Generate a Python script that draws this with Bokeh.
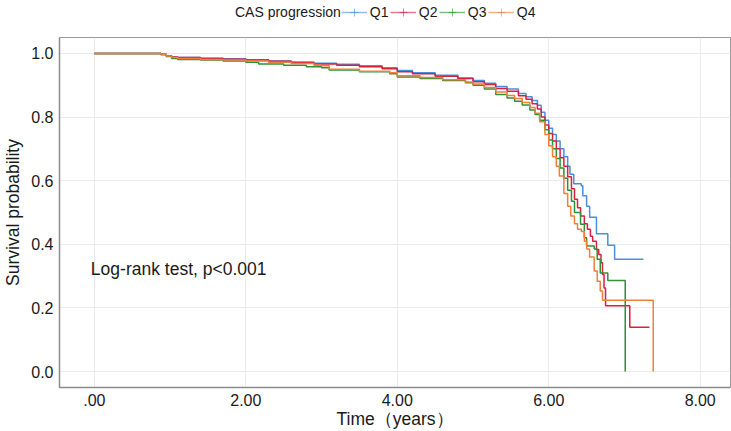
from bokeh.plotting import figure
from bokeh.layouts import column
from bokeh.models import (ColumnDataSource, Legend, LegendItem, Label,
                          FixedTicker, Range1d)
from bokeh.embed import file_html
from bokeh.resources import INLINE

# Kaplan-Meier estimates by CAS progression quartile: (time in years, survival)
q1_time = [0, 0.88, 0.95, 1.02, 1.1, 1.4, 1.7, 2.0, 2.3, 2.6, 2.9, 3.2, 3.5, 3.8, 4.0,
           4.2, 4.5, 4.8, 5.0, 5.15, 5.3, 5.45, 5.6, 5.7, 5.78, 5.85, 5.9, 5.95, 6.0,
           6.05, 6.1, 6.15, 6.2, 6.25, 6.28, 6.33, 6.43, 6.45, 6.5, 6.54, 6.63, 6.78,
           6.87, 7.25]
q1_surv = [1.0, 0.997, 0.993, 0.989, 0.987, 0.985, 0.983, 0.980, 0.976, 0.973, 0.969,
           0.966, 0.961, 0.955, 0.946, 0.939, 0.931, 0.923, 0.915, 0.906, 0.896, 0.888,
           0.874, 0.864, 0.852, 0.837, 0.815, 0.790, 0.765, 0.745, 0.725, 0.700, 0.675,
           0.645, 0.620, 0.590, 0.584, 0.553, 0.520, 0.485, 0.433, 0.397, 0.353, 0.353]

q2_time = [0, 0.88, 0.95, 1.02, 1.1, 1.4, 1.7, 2.0, 2.3, 2.6, 2.9, 3.2, 3.5, 3.8, 4.0,
           4.2, 4.5, 4.8, 5.0, 5.15, 5.3, 5.45, 5.6, 5.7, 5.78, 5.85, 5.9, 5.95, 6.0,
           6.05, 6.1, 6.15, 6.2, 6.25, 6.3, 6.34, 6.38, 6.42, 6.47, 6.51, 6.55, 6.58,
           6.63, 6.66, 6.69, 6.71, 6.73, 6.75, 7.07, 7.33]
q2_surv = [1.0, 0.997, 0.993, 0.989, 0.987, 0.984, 0.982, 0.979, 0.975, 0.971, 0.967,
           0.963, 0.958, 0.952, 0.942, 0.936, 0.928, 0.921, 0.911, 0.902, 0.890, 0.881,
           0.867, 0.856, 0.842, 0.825, 0.800, 0.775, 0.748, 0.725, 0.700, 0.672, 0.645,
           0.612, 0.575, 0.542, 0.515, 0.489, 0.465, 0.447, 0.425, 0.410, 0.384, 0.368,
           0.342, 0.305, 0.263, 0.207, 0.139, 0.139]

q3_time = [0, 0.88, 0.95, 1.02, 1.1, 1.4, 1.7, 2.0, 2.17, 2.5, 2.8, 3.0, 3.1, 3.5, 3.9,
           4.0, 4.3, 4.6, 4.9, 5.0, 5.15, 5.3, 5.45, 5.55, 5.65, 5.75, 5.82, 5.88, 5.95,
           6.0, 6.05, 6.1, 6.15, 6.2, 6.25, 6.3, 6.34, 6.42, 6.47, 6.5, 6.6, 6.64, 6.68,
           6.78, 7.01]
q3_surv = [1.0, 0.996, 0.990, 0.984, 0.981, 0.979, 0.976, 0.972, 0.967, 0.963, 0.958,
           0.955, 0.948, 0.942, 0.936, 0.926, 0.921, 0.915, 0.908, 0.900, 0.888, 0.871,
           0.860, 0.850, 0.838, 0.822, 0.808, 0.790, 0.760, 0.728, 0.700, 0.670, 0.640,
           0.608, 0.570, 0.535, 0.500, 0.463, 0.421, 0.395, 0.385, 0.353, 0.310, 0.286,
           0.0]

q4_time = [0, 0.88, 0.95, 1.02, 1.1, 1.4, 1.7, 2.0, 2.3, 2.6, 2.9, 3.0, 3.1, 3.5, 3.9,
           4.0, 4.3, 4.6, 4.9, 5.0, 5.15, 5.3, 5.45, 5.55, 5.65, 5.75, 5.82, 5.88, 5.95,
           6.0, 6.05, 6.1, 6.14, 6.2, 6.25, 6.29, 6.34, 6.38, 6.43, 6.47, 6.5, 6.54, 6.6,
           6.64, 6.68, 6.71, 7.38]
q4_surv = [1.0, 0.997, 0.992, 0.987, 0.984, 0.981, 0.979, 0.976, 0.972, 0.968, 0.963,
           0.961, 0.950, 0.944, 0.939, 0.930, 0.924, 0.917, 0.910, 0.904, 0.893, 0.879,
           0.868, 0.858, 0.846, 0.830, 0.812, 0.785, 0.745, 0.710, 0.675, 0.645, 0.615,
           0.560, 0.520, 0.489, 0.465, 0.447, 0.440, 0.410, 0.385, 0.360, 0.316, 0.284,
           0.253, 0.224, 0.0]

group_names = ["Q1", "Q2", "Q3", "Q4"]
group_colors = ["#4A8FDE", "#DC1F3F", "#2E9135", "#F07F38"]
legend_title = "CAS progression"

x_ticks = [0, 2, 4, 6, 8]
x_tick_labels = [".00", "2.00", "4.00", "6.00", "8.00"]
y_ticks = [0.0, 0.2, 0.4, 0.6, 0.8, 1.0]
y_tick_labels = ["0.0", "0.2", "0.4", "0.6", "0.8", "1.0"]

FONT = "Liberation Sans"
TEXT_COLOR = "#1a1a1a"

# ---- key strip across the top ----
key = figure(width=731, height=37, output_backend="svg", toolbar_location=None,
             x_range=Range1d(0, 1), y_range=Range1d(0, 1),
             x_axis_location=None, y_axis_location=None,
             min_border_left=0, min_border_right=0, min_border_top=0,
             min_border_bottom=0)
key.outline_line_color = None
key.grid.visible = False

# stand-in renderers for the key entries; their points lie outside the strip's
# visible range, so only their key glyphs show
off = ColumnDataSource(dict(x=[5, 6], y=[5, 5]))
heading = key.scatter("x", "y", source=off, marker="circle", size=1,
                      line_alpha=0, fill_alpha=0)
items = [LegendItem(label=legend_title, renderers=[heading])]
for name, color in zip(group_names, group_colors):
    k_line = key.line("x", "y", source=off, line_color=color, line_width=1.5,
                      line_alpha=0.6)
    k_mark = key.scatter("x", "y", source=off, marker="cross", size=14,
                         line_color=color, line_alpha=0.6, line_width=1)
    items.append(LegendItem(label=name, renderers=[k_line, k_mark]))

legend = Legend(items=items, orientation="horizontal", location=(147, 15),
                label_text_font=FONT, label_text_font_size="14px",
                label_text_color=TEXT_COLOR, label_standoff=3,
                glyph_width=26, glyph_height=20, spacing=0, padding=0,
                margin=0, background_fill_alpha=0, border_line_alpha=0)
key.add_layout(legend)

# ---- survival curves ----
p = figure(width=731, height=394, output_backend="svg", toolbar_location=None,
           x_range=Range1d(-0.46, 8.40), y_range=Range1d(-0.05, 1.05),
           min_border_left=58, min_border_right=1, min_border_top=0,
           min_border_bottom=43)

p.background_fill_color = "white"
p.outline_line_color = "#9a9a9a"
p.outline_line_width = 1

p.xgrid.ticker = FixedTicker(ticks=x_ticks)
p.ygrid.ticker = FixedTicker(ticks=y_ticks)
for g in (p.xgrid, p.ygrid):
    g.grid_line_color = "#ebebeb"
    g.grid_line_width = 1

p.xaxis.ticker = FixedTicker(ticks=x_ticks)
p.yaxis.ticker = FixedTicker(ticks=y_ticks)
p.xaxis.major_label_overrides = {t: s for t, s in zip(x_ticks, x_tick_labels)}
p.yaxis.major_label_overrides = {t: s for t, s in zip(y_ticks, y_tick_labels)}
p.xaxis.axis_label = "Time（years）"
p.yaxis.axis_label = "Survival probability"
for ax in (p.xaxis, p.yaxis):
    ax.axis_line_color = "#8c8c8c"
    ax.axis_line_width = 1.5
    ax.major_tick_line_color = None
    ax.minor_tick_line_color = None
    ax.major_tick_out = 0
    ax.major_tick_in = 0
    ax.minor_tick_out = 0
    ax.minor_tick_in = 0
    ax.major_label_text_font = FONT
    ax.major_label_text_font_size = "16px"
    ax.major_label_text_color = TEXT_COLOR
    ax.axis_label_text_font = FONT
    ax.axis_label_text_font_size = "17.5px"
    ax.axis_label_text_font_style = "normal"
    ax.axis_label_text_color = TEXT_COLOR
p.xaxis.major_label_standoff = 6
p.xaxis.axis_label_standoff = 0
p.yaxis.major_label_standoff = 6
p.yaxis.axis_label_standoff = 5

series = [(q1_time, q1_surv), (q2_time, q2_surv), (q3_time, q3_surv), (q4_time, q4_surv)]
for (t, s), color in zip(series, group_colors):
    src = ColumnDataSource(dict(time=t, surv=s))
    p.step("time", "surv", source=src, mode="after", line_color=color, line_width=1.5)

p.add_layout(Label(x=-0.046, y=0.321, text="Log-rank test, p<0.001",
                   text_font=FONT, text_font_size="17.5px", text_color=TEXT_COLOR,
                   text_baseline="middle", text_align="left"))

page = column(key, p, spacing=0)
open("out.html", "w").write(file_html(page, INLINE))
